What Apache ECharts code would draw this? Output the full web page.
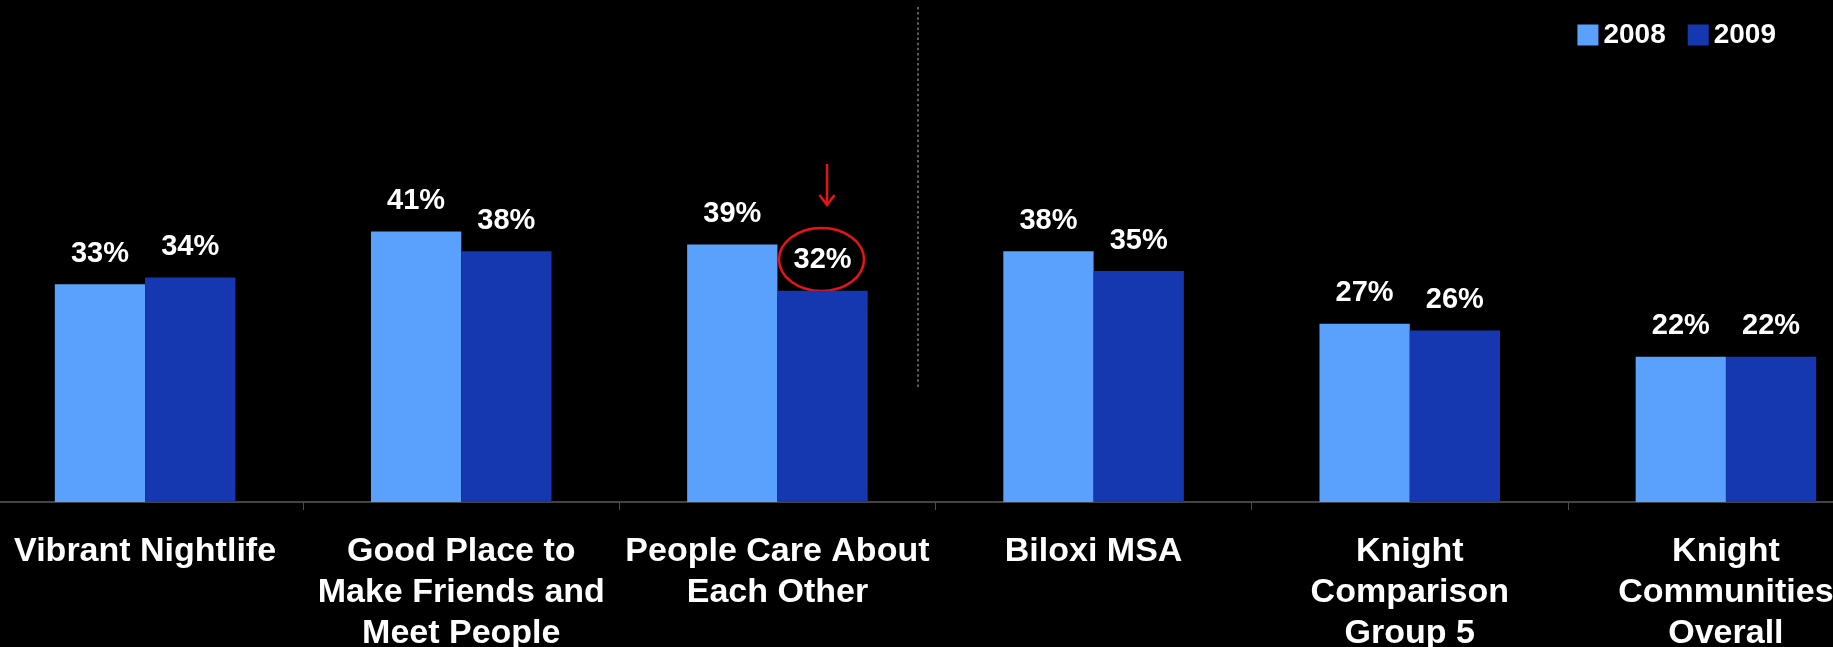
<!DOCTYPE html>
<html>
<head>
<meta charset="utf-8">
<title>Social Offerings and Openness, 2008 vs 2009</title>
<script src="https://cdn.jsdelivr.net/npm/echarts@6/dist/echarts.min.js"></script>
<style>
  html, body { margin: 0; padding: 0; background: #000; }
  #chart { width: 1833px; height: 647px; }
</style>
</head>
<body>
<div id="chart"></div>
<script>
// Categories along the x axis
const categories = [
  'Vibrant Nightlife',
  'Good Place to\nMake Friends and\nMeet People',
  'People Care About\nEach Other',
  'Biloxi MSA',
  'Knight\nComparison\nGroup 5',
  'Knight\nCommunities\nOverall'
];

// Percent of residents, by survey year
const values2008 = [33, 41, 39, 38, 27, 22];
const values2009 = [34, 38, 32, 35, 26, 22];

const seriesNames = ['2008', '2009'];

const FONT = "'Liberation Sans', Arial, Helvetica, sans-serif";
const COLOR_2008 = '#5aa0fd';
const COLOR_2009 = '#1538b0';

const chart = echarts.init(document.getElementById('chart'), null, { renderer: 'canvas' });

const valueLabel = {
  show: true,
  position: 'top',
  distance: 16,
  color: '#ffffff',
  fontFamily: FONT,
  fontWeight: 'bold',
  fontSize: 29,
  formatter: p => p.value + '%'
};

chart.setOption({
  backgroundColor: '#000000',
  animation: false,
  legend: {
    data: seriesNames,
    right: 52,
    top: 16,
    icon: 'rect',
    itemWidth: 21,
    itemHeight: 21,
    itemGap: 22,
    textStyle: {
      color: '#ffffff',
      fontFamily: FONT,
      fontWeight: 'bold',
      fontSize: 28
    }
  },
  grid: {
    left: -13,
    right: -51,
    top: 40,
    bottom: 145,
    outerBoundsMode: 'none',
    containLabel: false
  },
  xAxis: {
    type: 'category',
    data: categories,
    axisLine: { lineStyle: { color: '#5a5a5a', width: 1.5 } },
    axisTick: { show: true, length: 8, lineStyle: { color: '#4a4a4a', width: 1 } },
    axisLabel: {
      interval: 0,
      color: '#ffffff',
      fontFamily: FONT,
      fontWeight: 'bold',
      fontSize: 34,
      lineHeight: 41,
      margin: 29,
      align: 'center'
    }
  },
  yAxis: {
    type: 'value',
    min: 0,
    max: 70,
    show: false,
    splitLine: { show: false }
  },
  series: [
    {
      name: seriesNames[0],
      type: 'bar',
      data: values2008,
      itemStyle: { color: COLOR_2008 },
      barGap: '0%',
      barCategoryGap: '42.9%',
      label: valueLabel
    },
    {
      name: seriesNames[1],
      type: 'bar',
      data: values2009,
      itemStyle: { color: COLOR_2009 },
      barGap: '0%',
      barCategoryGap: '42.9%',
      label: valueLabel
    }
  ],
  graphic: [
    // dotted separator between the attribute measures and the comparison areas
    {
      type: 'line',
      shape: { x1: 918, y1: 7, x2: 918, y2: 388 },
      style: { stroke: '#5c5c5c', lineWidth: 2, lineDash: [2.5, 2.6] },
      silent: true
    },
    // red call-out arrow and ring around the 2009 value for "People Care About Each Other"
    {
      type: 'line',
      shape: { x1: 827, y1: 164, x2: 827, y2: 204 },
      style: { stroke: '#ee1111', lineWidth: 2.5 },
      silent: true
    },
    {
      type: 'polyline',
      shape: { points: [[819.5, 195], [827, 205], [834.5, 195]] },
      style: { stroke: '#ee1111', lineWidth: 2.5, fill: null },
      silent: true
    },
    {
      type: 'ellipse',
      shape: { cx: 821.5, cy: 259.5, rx: 42.5, ry: 31.5 },
      style: { stroke: '#e81414', lineWidth: 2.5, fill: null },
      silent: true
    }
  ]
});
</script>
</body>
</html>
